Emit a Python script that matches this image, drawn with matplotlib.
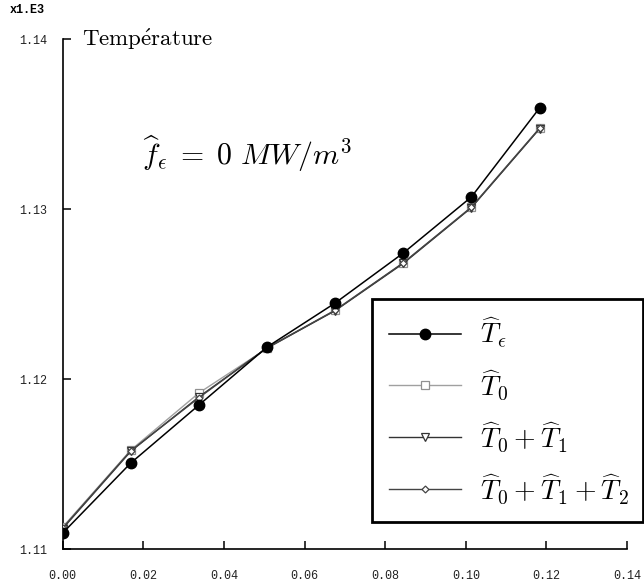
from matplotlib import pyplot as plt
import numpy as np

plt.rcParams['mathtext.fontset'] = 'cm'

# positions along x
x = [0.0, 0.0169, 0.0338, 0.0507, 0.0676, 0.0845, 0.1014, 0.1183]

# temperatures in units of 1.E3
T_eps = [1.11094, 1.11506, 1.11847, 1.12188, 1.12447, 1.12741, 1.13071, 1.13594]
T_0 = [1.11129, 1.11582, 1.11918, 1.12180, 1.12406, 1.12682, 1.13012, 1.13476]
T_01 = [1.11120, 1.11575, 1.11895, 1.12182, 1.12402, 1.12680, 1.13008, 1.13472]
T_012 = [1.11124, 1.11578, 1.11890, 1.12184, 1.12404, 1.12684, 1.13010, 1.13474]

labels = [r'$\widehat{T}_\epsilon$', r'$\widehat{T}_0$',
          r'$\widehat{T}_0+\widehat{T}_1$', r'$\widehat{T}_0+\widehat{T}_1+\widehat{T}_2$']
xticks = [0.00, 0.02, 0.04, 0.06, 0.08, 0.10, 0.12, 0.14]
yticks = [1.11, 1.12, 1.13, 1.14]

fig = plt.figure(figsize=(6.44, 5.85), dpi=100)
ax = fig.add_axes([62.7/644, 1-549/585, (627-62.7)/644, (549-39)/585])

ax.plot(x, T_0, color='#a0a0a0', lw=1.0, marker='s', ms=6, mfc='white', mec='#909090', mew=0.9, label=labels[1], zorder=3)
ax.plot(x, T_01, color='#333333', lw=1.0, marker='v', ms=6, mfc='white', mec='#333333', mew=0.9, label=labels[2], zorder=3)
ax.plot(x, T_012, color='#444444', lw=1.0, marker='D', ms=3.5, mfc='white', mec='#444444', mew=0.9, label=labels[3], zorder=3)
ax.plot(x, T_eps, color='black', lw=1.1, marker='o', ms=7.5, mfc='black', mec='black', label=labels[0], zorder=4)

ax.set_xlim(0, 0.14)
ax.set_ylim(1.11, 1.14)
ax.set_xticks(xticks)
ax.set_yticks(yticks)
ax.set_xticklabels(['%.2f' % v for v in xticks], family='Liberation Mono', fontsize=8.5, color='#222222')
ax.set_yticklabels(['%.2f' % v for v in yticks], family='Liberation Mono', fontsize=8.5, color='#222222')
ax.tick_params(axis='both', direction='in', length=6, width=1.1)
ax.tick_params(axis='x', pad=15)
ax.tick_params(axis='y', pad=11)
for s in ['top', 'right']:
    ax.spines[s].set_visible(False)
for s in ['left', 'bottom']:
    ax.spines[s].set_linewidth(1.2)

fig.text(10/644, 1-10/585, 'x1.E3', family='Liberation Mono', fontsize=8.5, weight='bold', va='center', ha='left')
fig.text(82/644, 1-46/585, r'$\mathrm{Temp\acute{e}rature}$', fontsize=16.5, va='baseline', ha='left')
fig.text(142/644, 1-165/585, r'$\widehat{f}_\epsilon\;=\;0\ MW/m^3$', fontsize=21.5, va='baseline', ha='left')

h, l = ax.get_legend_handles_labels()
order = [3, 0, 1, 2]
leg = ax.legend([h[i] for i in order], [l[i] for i in order],
                loc='upper left', bbox_to_anchor=(372/644, 0, 271/644, 1-299/585),
                bbox_transform=fig.transFigure, mode='expand', fontsize=20,
                frameon=True, fancybox=False, framealpha=1, edgecolor='black',
                handlelength=2.6, handletextpad=0.7, labelspacing=0.65, borderpad=0.6,
                borderaxespad=0)
leg.get_frame().set_linewidth(2)

fig.savefig('out.png', dpi=100)
